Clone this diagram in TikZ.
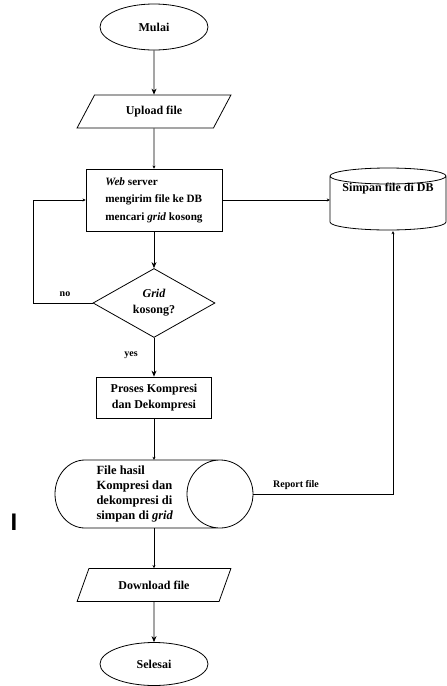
\documentclass[tikz,border=0pt]{standalone}
\usepackage{fontspec}
\setmainfont{Liberation Serif}
\setsansfont{Liberation Sans}
\usetikzlibrary{shapes.geometric,arrows.meta}
\begin{document}
\begin{tikzpicture}[x=1pt,y=-1pt,
 every node/.style={font=\bfseries\fontsize{12}{16}\selectfont},
 base/.style={draw,line width=0.8pt,inner sep=0pt},
 term/.style={base,ellipse,minimum width=108pt,minimum height=46pt},
 io/.style={base,trapezium,trapezium left angle=53,trapezium right angle=127,trapezium stretches=true,minimum width=154pt,minimum height=33pt},
 proc/.style={base,rectangle},
 ghost/.style={inner sep=0pt},
 line/.style={line width=0.8pt},
 big/.style={line,-{Stealth[length=6pt,width=5pt]}},
 small/.style={line,-{Stealth[length=3pt,width=3pt]}},
 lbl/.style={font=\bfseries\fontsize{10}{12}\selectfont}
]
\useasboundingbox (0,0) rectangle (447,686);

% main column
\node[term] (mulai) at (154,27) {Mulai};
\node[io] (up) at (154,111.5) {Upload file};
\node[proc,minimum width=136pt,minimum height=62pt,align=left,font=\bfseries\fontsize{11.2}{17.5}\selectfont] (web) at (154,200)
  {\textit{Web} server\\mengirim file ke DB\\mencari \textit{grid} kosong};
\node[base,diamond,minimum width=122pt,minimum height=66pt,align=center] (dec) at (154,303)
  {\textit{Grid}\\kosong?};
\node[proc,minimum width=115pt,minimum height=41pt,align=center] (proc) at (154,397.5)
  {Proses Kompresi\\dan Dekompresi};

% stored data shape
\node[ghost,minimum width=198pt,minimum height=68pt] (st) at (154,494) {};
\draw[line] (85,460) -- (220,460) (85,528) -- (220,528)
  (85,460) arc[start angle=-90,end angle=-270,x radius=30,y radius=34]
  (220,494) ellipse[x radius=33,y radius=34];
\node[anchor=west,align=left,font=\bfseries\fontsize{12.5}{15}\selectfont] (sttext) at (93,494)
  {File hasil\\Kompresi dan\\dekompresi di\\simpan di \textit{grid}};

\node[io] (down) at (154,585) {Download file};
\node[term,minimum height=43pt] (sel) at (154,664) {Selesai};

% database cylinder
\node[ghost,minimum width=116pt,minimum height=62pt] (db) at (388,200) {};
\draw[line] (330,176) -- (330,222) arc[start angle=180,end angle=0,x radius=58,y radius=8] -- (446,176)
  (388,176) ellipse[x radius=58,y radius=8];
\node (dbtext) at (388,189) {Simpan file di DB};

% connectors
\draw[big] (mulai) -- (up);
\draw[small] (up) -- (web);
\draw[small] (web.east) -- (db.west);
\draw[big] (web) -- (dec);
\coordinate (nocorner) at (33,303);
\draw[small] (dec.west) -- (nocorner) |- (web.west);
\node[lbl] (nolbl) at (65,294) {no};
\draw[big] (dec) -- (proc);
\node[lbl] (yeslbl) at (131,355) {yes};
\draw[small] (proc) -- (st);
\draw[small] (st) -- (down);
\draw[big] (down) -- (sel);
\coordinate (rc) at (393,494);
\draw[small] (st.east) -- (rc) -- (rc |- db.south);
\node[lbl] (replbl) at (296,485) {Report file};

\node[font=\sffamily\bfseries\fontsize{24}{24}\selectfont] (mark) at (14,522) {I};
\end{tikzpicture}
\end{document}
